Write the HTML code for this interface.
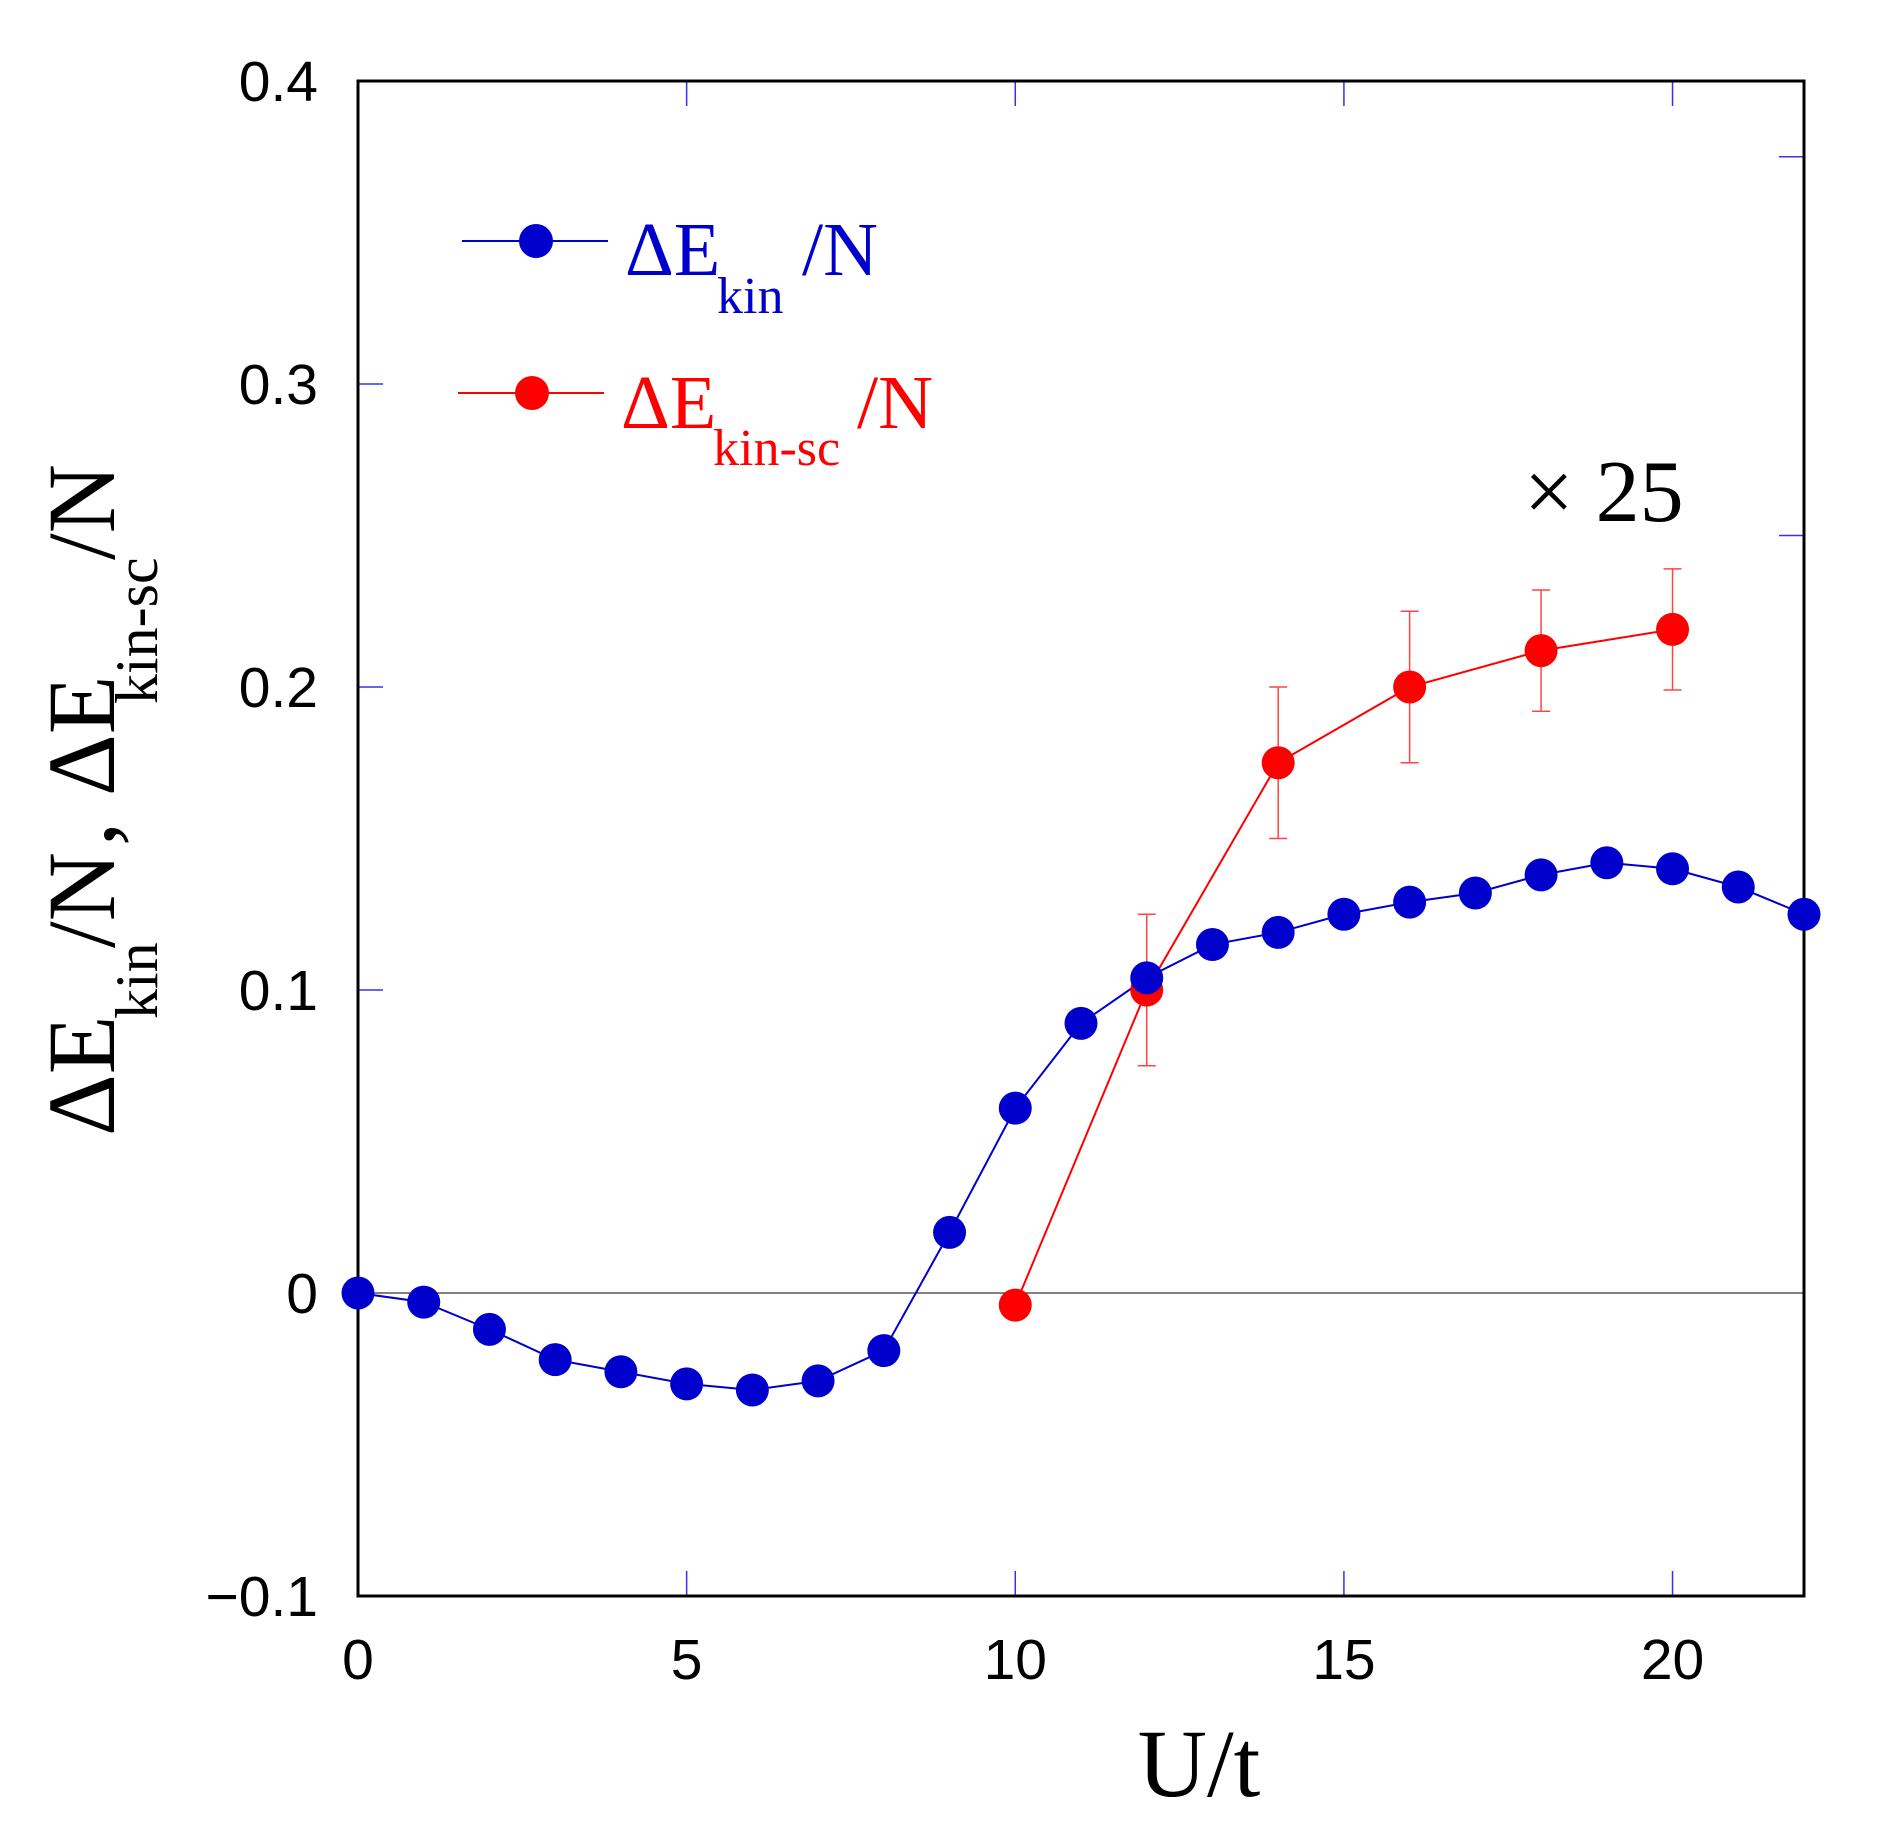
<!DOCTYPE html>
<html><head><meta charset="utf-8"><style>html,body{margin:0;padding:0;background:#fff}svg{display:block}</style></head>
<body>
<svg id="chart" width="1892" height="1848" viewBox="0 0 1892 1848" xmlns="http://www.w3.org/2000/svg">
<g id="frame"></g>
<g id="marks"></g>
<g id="labels" font-family="Liberation Sans, sans-serif" font-size="57" fill="#000"></g>
<g font-family="Liberation Serif, serif">
  <line x1="462" y1="241" x2="608" y2="241" stroke="#0000cc" stroke-width="2"/>
  <circle cx="536" cy="241" r="17" fill="#0000cc"/>
  <text fill="#0000cc" font-size="76"><tspan x="625" y="275">ΔE</tspan><tspan x="717" y="313" font-size="52">kin</tspan><tspan x="802" y="275">/N</tspan></text>
  <line x1="458" y1="393" x2="604" y2="393" stroke="#ff0000" stroke-width="2"/>
  <circle cx="532" cy="393" r="17" fill="#ff0000"/>
  <text fill="#ff0000" font-size="76"><tspan x="621" y="428">ΔE</tspan><tspan x="713" y="465" font-size="52">kin-sc</tspan><tspan x="857" y="428">/N</tspan></text>
</g>
<text x="1524" y="521" font-family="Liberation Serif, serif" font-size="88" fill="#000">× 25</text>
<text x="1199" y="1796" text-anchor="middle" font-family="Liberation Serif, serif" font-size="96" fill="#000">U/t</text>
<g transform="translate(114,1136) rotate(-90)" font-family="Liberation Serif, serif" font-size="96" fill="#000">
  <text x="0" y="0">ΔE</text><text x="117" y="43" font-size="60">kin</text><text x="188" y="0">/N</text><text x="290" y="0">,</text>
  <text x="340" y="0">ΔE</text><text x="432" y="43" font-size="60">kin-sc</text><text x="576" y="0">/N</text>
</g>
<script>
const blueX = [0,1,2,3,4,5,6,7,8,9,10,11,12,13,14,15,16,17,18,19,20,21,22];
const blueY = [0,-0.003,-0.012,-0.022,-0.026,-0.030,-0.032,-0.029,-0.019,0.020,0.061,0.089,0.104,0.115,0.119,0.125,0.129,0.132,0.138,0.142,0.140,0.134,0.125];
const redX = [10,12,14,16,18,20];
const redY = [-0.004,0.100,0.175,0.200,0.212,0.219];
const redErr = [0,0.025,0.025,0.025,0.02,0.02];
const xTicks = [0,5,10,15,20];
const xTickLabels = ["0","5","10","15","20"];
const yTicks = [-0.1,0,0.1,0.2,0.3,0.4];
const yTickLabels = ["\u22120.1","0","0.1","0.2","0.3","0.4"];
const y2Ticks = [0.25,0.375];

const L=358,R=1804,T=81,B=1596;
const xs=v=>L+(v-0)/(22-0)*(R-L);
const ys=v=>B-(v+0.1)/0.5*(B-T);
const NS="http://www.w3.org/2000/svg";
function mk(tag,attrs,parent){const e=document.createElementNS(NS,tag);for(const k in attrs)e.setAttribute(k,attrs[k]);parent.appendChild(e);return e;}
const frame=document.getElementById('frame'),marks=document.getElementById('marks'),labels=document.getElementById('labels');

let z=mk('line',{x1:L,y1:ys(0),x2:R,y2:ys(0),stroke:'#000','stroke-width':1},frame);


xTicks.forEach((v,i)=>{
  if(v>0){
    let t1=mk('line',{x1:xs(v),y1:B,x2:xs(v),y2:B-25,stroke:'#3333ee','stroke-width':1.5},frame);
    
    
    let t2=mk('line',{x1:xs(v),y1:T,x2:xs(v),y2:T+25,stroke:'#3333ee','stroke-width':1.5},frame);
    
    
  }
  let tl=mk('text',{x:xs(v),y:1679,'text-anchor':'middle'},labels);
  tl.textContent=xTickLabels[i];
  
  
});
yTicks.forEach((v,i)=>{
  if(v>-0.1&&v<0.4&&v!==0){
    let t=mk('line',{x1:L,y1:ys(v),x2:L+25,y2:ys(v),stroke:'#3333ee','stroke-width':1.5},frame);
    
    
  }
  let tl=mk('text',{x:318,y:ys(v)+20,'text-anchor':'end'},labels);
  tl.textContent=yTickLabels[i];
  
  
});
y2Ticks.forEach(v=>{
  let t=mk('line',{x1:R,y1:ys(v),x2:R-25,y2:ys(v),stroke:'#3333ee','stroke-width':1.5},frame);
  
  
});
let fr=mk('rect',{x:L,y:T,width:R-L,height:B-T,fill:'none',stroke:'#000','stroke-width':3},frame);



let rl=mk('polyline',{points:redX.map((v,i)=>xs(v)+','+ys(redY[i])).join(' '),fill:'none',stroke:'#ff0000','stroke-width':2},marks);


redX.forEach((v,i)=>{
  if(redErr[i]>0){
    const x=xs(v),a=ys(redY[i]+redErr[i]),b=ys(redY[i]-redErr[i]);
    let e=mk('path',{d:`M${x},${a}V${b}M${x-9},${a}H${x+9}M${x-9},${b}H${x+9}`,stroke:'#ff4444','stroke-width':1.5,fill:'none'},marks);
    
    
  }
});
let bl=mk('polyline',{points:blueX.map((v,i)=>xs(v)+','+ys(blueY[i])).join(' '),fill:'none',stroke:'#0000cc','stroke-width':2},marks);


redX.forEach((v,i)=>{
  let c=mk('circle',{cx:xs(v),cy:ys(redY[i]),r:16.5,fill:'#ff0000'},marks);
  
  
});
blueX.forEach((v,i)=>{
  let c=mk('circle',{cx:xs(v),cy:ys(blueY[i]),r:16.5,fill:'#0000cc'},marks);
  
  
});
</script>
</svg>
</body></html>
